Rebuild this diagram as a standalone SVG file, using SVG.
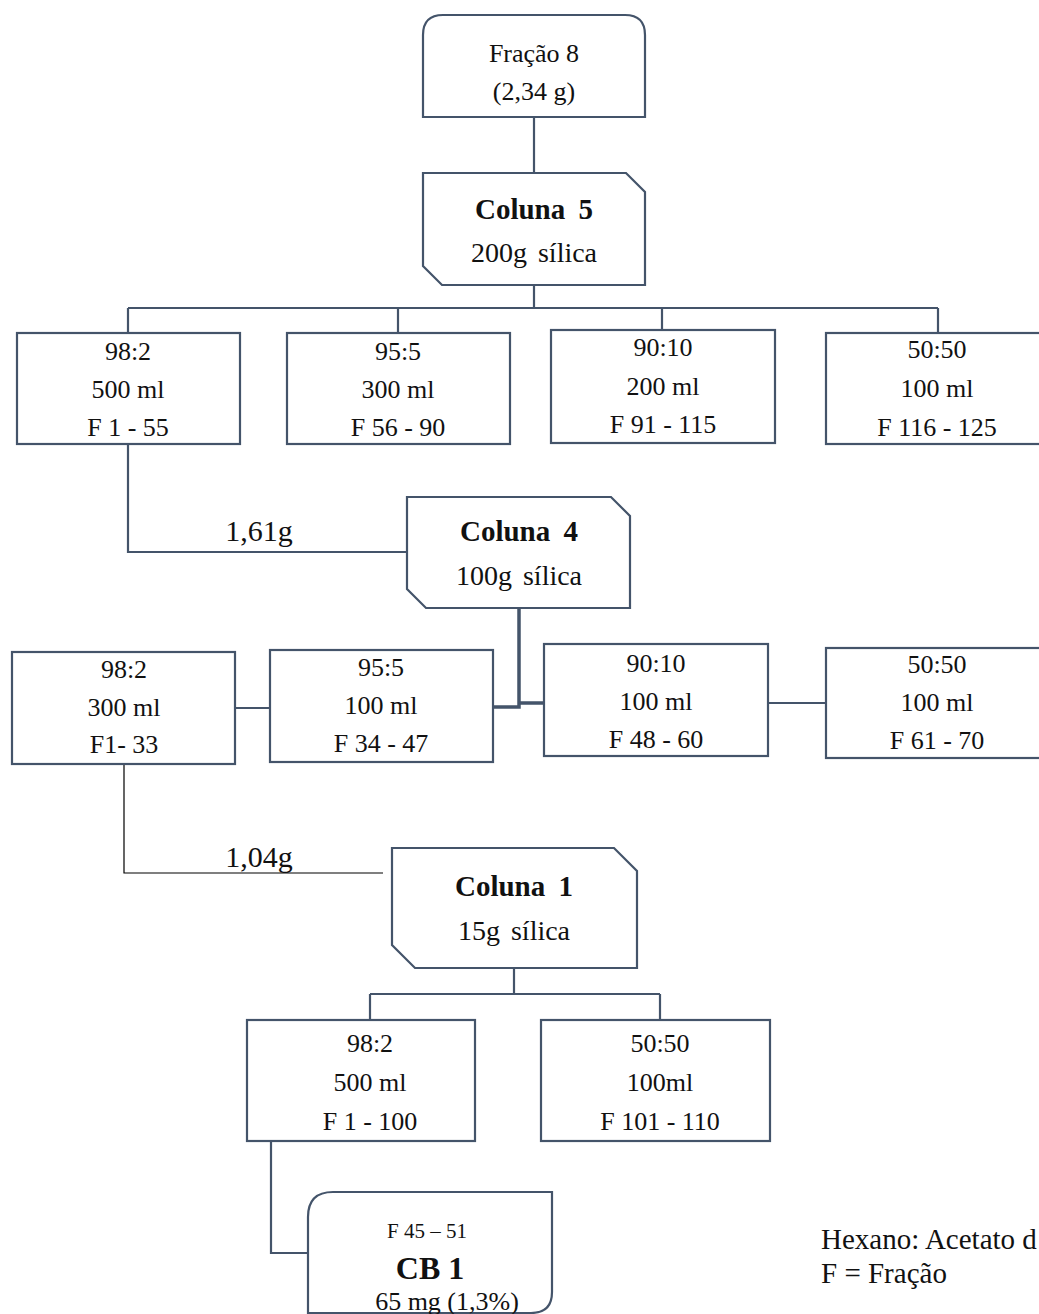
<svg xmlns="http://www.w3.org/2000/svg" width="1039" height="1314" viewBox="0 0 1039 1314">
<style>
.box{fill:#fff;stroke:#44546a;stroke-width:2.2}
.ln{fill:none;stroke:#44546a;stroke-width:2.2}
.thk{fill:none;stroke:#44546a;stroke-width:3.5}
.thin{fill:none;stroke:#000;stroke-width:1.2}
text{font-family:'Liberation Serif',Tinos,'Times New Roman',Times,serif;fill:#111;text-anchor:middle}
.t{font-size:26px}
.b{font-size:29px;font-weight:bold;word-spacing:6px}
.s{font-size:28px;word-spacing:4px}
.w{font-size:30px}
.lg{font-size:29px;text-anchor:start}
</style>
<rect width="1039" height="1314" fill="#fff"/>
<g id="connectors">
<path class="ln" d="M534,117 V173"/>
<path class="ln" d="M534,285 V308 M128,308 H938 M128,308 V333 M398,308 V333 M662,308 V330 M938,308 V333"/>
<path class="ln" d="M128,444 V552 H407"/>
<path class="thk" d="M493,707 H519 V608 M519,703 H544"/>
<path class="ln" d="M235,708 H270 M768,703 H826"/>
<path class="thin" d="M124,763 V873 H383"/>
<path class="ln" d="M514,968 V994 M370,994 H660 M370,994 V1020 M660,994 V1020"/>
<path class="ln" d="M271,1141 V1253 H308"/>
</g>
<g id="fracao8">
<path class="box" d="M423,117 V35 Q423,15 443,15 H625 Q645,15 645,35 V117 Z"/>
<text class="t" x="534" y="62">Fração 8</text>
<text class="t" x="534" y="100">(2,34 g)</text>
</g>
<g id="coluna5">
<path class="box" d="M423,173 H626 L645,192 V285 H442 L423,266 Z"/>
<text class="b" x="534" y="219">Coluna 5</text>
<text class="s" x="534" y="262">200g sílica</text>
</g>
<g id="c5-98-2">
<rect class="box" x="17" y="333" width="223" height="111"/>
<text class="t" x="128" y="360">98:2</text>
<text class="t" x="128" y="398">500 ml</text>
<text class="t" x="128" y="436">F 1 - 55</text>
</g>
<g id="c5-95-5">
<rect class="box" x="287" y="333" width="223" height="111"/>
<text class="t" x="398" y="360">95:5</text>
<text class="t" x="398" y="398">300 ml</text>
<text class="t" x="398" y="436">F 56 - 90</text>
</g>
<g id="c5-90-10">
<rect class="box" x="551" y="330" width="224" height="113"/>
<text class="t" x="663" y="356">90:10</text>
<text class="t" x="663" y="395">200 ml</text>
<text class="t" x="663" y="433">F 91 - 115</text>
</g>
<g id="c5-50-50">
<rect class="box" x="826" y="333" width="230" height="111"/>
<text class="t" x="937" y="358">50:50</text>
<text class="t" x="937" y="397">100 ml</text>
<text class="t" x="937" y="436">F 116 - 125</text>
</g>
<text class="w" x="259" y="541">1,61g</text>
<g id="coluna4">
<path class="box" d="M407,497 H611 L630,516 V608 H426 L407,589 Z"/>
<text class="b" x="519" y="541">Coluna 4</text>
<text class="s" x="519" y="585">100g sílica</text>
</g>
<g id="c4-98-2">
<rect class="box" x="12" y="652" width="223" height="112"/>
<text class="t" x="124" y="678">98:2</text>
<text class="t" x="124" y="716">300 ml</text>
<text class="t" x="124" y="753">F1- 33</text>
</g>
<g id="c4-95-5">
<rect class="box" x="270" y="650" width="223" height="112"/>
<text class="t" x="381" y="676">95:5</text>
<text class="t" x="381" y="714">100 ml</text>
<text class="t" x="381" y="752">F 34 - 47</text>
</g>
<g id="c4-90-10">
<rect class="box" x="544" y="644" width="224" height="112"/>
<text class="t" x="656" y="672">90:10</text>
<text class="t" x="656" y="710">100 ml</text>
<text class="t" x="656" y="748">F 48 - 60</text>
</g>
<g id="c4-50-50">
<rect class="box" x="826" y="648" width="230" height="110"/>
<text class="t" x="937" y="673">50:50</text>
<text class="t" x="937" y="711">100 ml</text>
<text class="t" x="937" y="749">F 61 - 70</text>
</g>
<text class="w" x="259" y="867">1,04g</text>
<g id="coluna1">
<path class="box" d="M392,848 H614 L637,871 V968 H415 L392,945 Z"/>
<text class="b" x="514" y="896">Coluna 1</text>
<text class="s" x="514" y="940">15g sílica</text>
</g>
<g id="c1-98-2">
<rect class="box" x="247" y="1020" width="228" height="121"/>
<text class="t" x="370" y="1052">98:2</text>
<text class="t" x="370" y="1091">500 ml</text>
<text class="t" x="370" y="1130">F 1 - 100</text>
</g>
<g id="c1-50-50">
<rect class="box" x="541" y="1020" width="229" height="121"/>
<text class="t" x="660" y="1052">50:50</text>
<text class="t" x="660" y="1091">100ml</text>
<text class="t" x="660" y="1130">F 101 - 110</text>
</g>
<g id="cb1">
<path class="box" d="M308,1313 V1217 Q308,1192 333,1192 H552 V1292 Q552,1313 531,1313 Z"/>
<text x="427" y="1238" style="font-size:21px">F 45 – 51</text>
<text x="430" y="1279" style="font-size:32px;font-weight:bold">CB 1</text>
<text x="447" y="1310" style="font-size:26px">65 mg (1,3%)</text>
</g>
<g id="legend">
<text class="lg" x="821" y="1249">Hexano: Acetato d</text>
<text class="lg" x="821" y="1283">F = Fração</text>
</g>
</svg>
